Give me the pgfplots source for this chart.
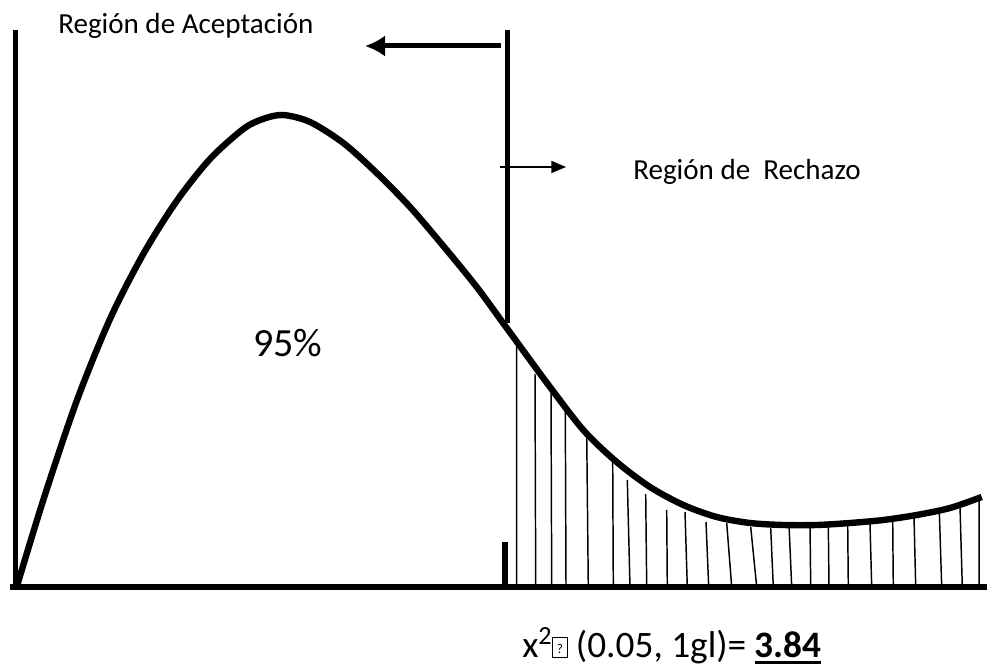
\documentclass[border=0pt]{standalone}
\usepackage{pgfplots}
\pgfplotsset{compat=1.18}
\usepackage{fontspec}
\setmainfont{Carlito}
\usetikzlibrary{arrows.meta}
\newsavebox{\ulbox}
\newcommand{\thickul}[1]{\sbox{\ulbox}{#1}\rlap{\raisebox{-5pt}{\rule{\wd\ulbox}{2.2pt}}}\usebox{\ulbox}}
\newcommand{\missingglyph}{{\fboxsep=0pt\fboxrule=0.7pt\fbox{\makebox[10pt]{\rule{0pt}{14pt}\raisebox{3pt}{\fontsize{10pt}{11pt}\selectfont ?}}}}}
\begin{document}
\begin{tikzpicture}
\begin{axis}[
  x=0.75pt, y=0.75pt,
  xmin=0, xmax=987, ymin=-84, ymax=587,
  hide axis, clip=false,
  unbounded coords=jump,
]
% hatching of rejection region
\addplot[black, line width=1.1pt] coordinates {
 (516.7,240) (516.7,0) (nan,nan)
 (535,213) (535.7,0) (nan,nan)
 (551,194) (551.7,0) (nan,nan)
 (565.3,177) (566,0) (nan,nan)
 (586.7,153) (588.3,0) (nan,nan)
 (612.7,125) (613.3,0) (nan,nan)
 (627.3,107) (630,0) (nan,nan)
 (645.7,93) (646.7,0) (nan,nan)
 (666.7,77) (667.3,0) (nan,nan)
 (685,75) (687.3,0) (nan,nan)
 (706,65) (708.7,0) (nan,nan)
 (726.7,64) (731.7,0) (nan,nan)
 (750.7,60) (756.7,0) (nan,nan)
 (770.7,59) (773.3,0) (nan,nan)
 (789,62) (791.7,0) (nan,nan)
 (810,62) (810.7,0) (nan,nan)
 (828.3,62) (829,0) (nan,nan)
 (847.7,62) (848.3,0) (nan,nan)
 (870,63) (871.7,0) (nan,nan)
 (892.7,65) (893.3,0) (nan,nan)
 (914,70) (915.7,0) (nan,nan)
 (939.3,76) (941.7,0) (nan,nan)
 (960,80) (962.3,0) (nan,nan)
 (979,87) (979,0)
};
% density curve
\addplot[black, line width=4.8pt, smooth, line join=round] coordinates {
 (16.7,0) (43.3,87) (76.7,186) (110,268) (143.3,333) (176.7,386) (210,428)
 (243.3,458) (263,468) (283,472) (310,465) (343.3,444) (376.7,414) (410,380)
 (443.3,341) (476.7,300) (506.7,259) (547,204) (583.3,157) (616.7,125)
 (650,100) (683.3,82) (716.7,70) (750,64) (783.3,62) (816.7,62) (850,64)
 (883.3,67) (916.7,72) (950,79) (981.7,90)
};
% horizontal axis line
\addplot[black, line width=4.5pt] coordinates {(10,0) (987,0)};
% left vertical line
\addplot[black, line width=3.75pt] coordinates {(15,0) (15,557)};
% critical value vertical line
\addplot[black, line width=3.75pt] coordinates {(507,264) (507,557)};
% small tick at critical value
\addplot[black, line width=4.5pt] coordinates {(505,2) (505,45)};
% big arrow (acceptance)
\addplot[black, line width=3.75pt, -{Latex[length=15pt,width=16pt]}] coordinates {(501,541) (365,541)};
% small arrow (rejection)
\addplot[black, line width=1.1pt, -{Triangle[length=11pt,width=9pt]}] coordinates {(500,420) (566,420)};
% texts
\node[anchor=base west, font=\fontsize{21.8pt}{24pt}\selectfont, inner sep=0pt] at (axis cs:58,553) {Región de Aceptación};
\node[anchor=base west, font=\fontsize{21.8pt}{24pt}\selectfont, inner sep=0pt] at (axis cs:633,407) {Región de\ \ Rechazo};
\node[anchor=base west, font=\fontsize{30pt}{34pt}\selectfont, inner sep=0pt] at (axis cs:253,230) {95\%};
\node[anchor=base west, font=\fontsize{28pt}{30pt}\selectfont, inner sep=0pt] at (axis cs:522,-70)
  {x\textsuperscript{2}\missingglyph\ (0.05, 1gl)= \thickul{\textbf{3.84}}};
\coordinate (sw) at (rel axis cs:0,0);
\coordinate (ne) at (rel axis cs:1,1);
\end{axis}
\pgfresetboundingbox
\path (sw) rectangle (ne);
\end{tikzpicture}
\end{document}
